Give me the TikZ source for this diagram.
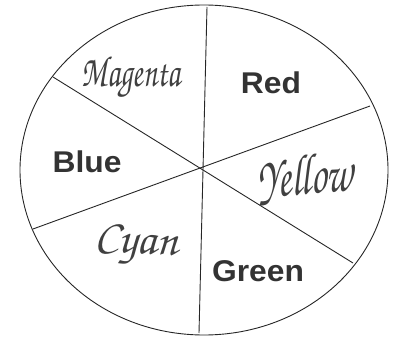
\documentclass[tikz,border=0pt]{standalone}
\usepackage{fontspec}
\newfontfamily\labelfont{Liberation Sans}
\usetikzlibrary{shapes.geometric}
\newcommand{\handfont}{\fontencoding{T1}\fontfamily{pzc}\fontseries{mb}\fontshape{it}\selectfont}

\begin{document}
\begin{tikzpicture}[x=1pt, y=-1pt, line width=0.9pt, draw=black!85,
  bold/.style={font=\labelfont\bfseries\fontsize{30}{30}\selectfont, text=black!80, anchor=base, inner sep=0pt, xscale=1.06},
  hand/.style={font=\handfont\fontsize{#1}{#1}\selectfont, text=black!75, anchor=base, inner sep=0pt}]
\useasboundingbox (0,0) rectangle (393,339);
\node[draw, ellipse, minimum width=368pt, minimum height=330pt, inner sep=0pt] (wheel) at (204,170) {};
% spoke ends on the rim
\coordinate (top) at (207,7);
\coordinate (bottom) at (199,333);
\coordinate (ul) at (53,77);
\coordinate (lr) at (353,263);
\coordinate (ll) at (33,229);
\coordinate (ur) at (370,106);
\draw (top) -- (bottom);
\draw (ul) -- (lr);
\draw (ll) -- (ur);
% colour names
\node[bold] (red) at (271,94) {Red};
\node[bold] (blue) at (87,172) {Blue};
\node[bold] (green) at (258,281) {Green};
\node[hand=44, xscale=0.7] (magenta) at (131,87) {Magenta};
\node[hand=58, xscale=0.68, rotate=3] (yellow) at (306,194) {Yellow};
\node[hand=46, xscale=1.0, rotate=-3] (cyan) at (136,253) {Cyan};
\end{tikzpicture}
\end{document}
